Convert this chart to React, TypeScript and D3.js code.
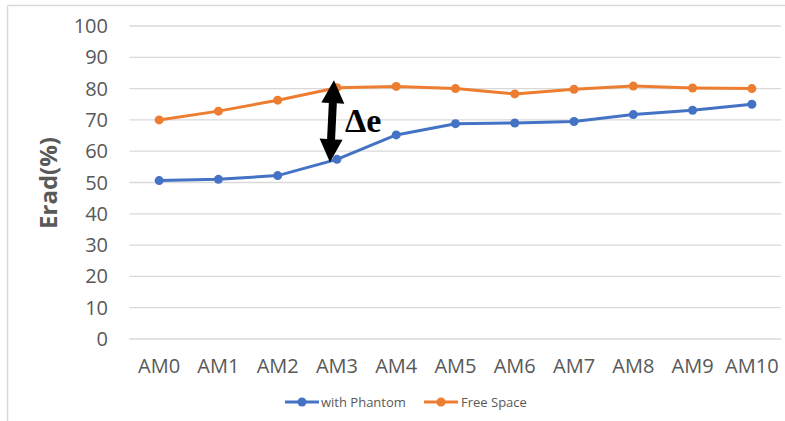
import React from "react";
import * as d3 from "d3";

const categories = ["AM0", "AM1", "AM2", "AM3", "AM4", "AM5", "AM6", "AM7", "AM8", "AM9", "AM10"];
const withPhantom = [50.6, 51.0, 52.2, 57.4, 65.2, 68.8, 69.0, 69.5, 71.7, 73.1, 75.0];
const freeSpace = [70.0, 72.8, 76.3, 80.3, 80.7, 80.0, 78.3, 79.8, 80.8, 80.2, 80.0];
const yTicks = [0, 10, 20, 30, 40, 50, 60, 70, 80, 90, 100];
const seriesNames = ["with Phantom", "Free Space"];
const seriesColors = ["#4472C4", "#ED7D31"];
const arrowTop = 82.7;
const arrowBottom = 56.5;
const arrowCategory = "AM3";
const deltaLabel = "Δe";

const W = 785;
const H = 421;

export default function App() {
  const x = d3.scaleBand<string>().domain(categories).range([129.5, 781.5]).paddingInner(0).paddingOuter(0);
  const cx = (c: string) => (x(c) as number) + x.bandwidth() / 2;
  const y = d3.scaleLinear().domain([0, 100]).range([339, 26]);
  const line = d3
    .line<number>()
    .x((_, i) => cx(categories[i]))
    .y((d) => y(d));
  const series = [withPhantom, freeSpace];

  // arrow geometry
  const ax = cx(arrowCategory);
  const p1 = [ax - 3, y(arrowTop)];
  const p2 = [ax - 7, y(arrowBottom)];
  const dx = p2[0] - p1[0];
  const dy = p2[1] - p1[1];
  const len = Math.hypot(dx, dy);
  const ux = dx / len, uy = dy / len;
  const nx = -uy, ny = ux;
  const headL = 23, headW = 11.5, shaftW = 4;
  const pt = (base: number[], along: number, side: number) =>
    `${base[0] + ux * along + nx * side},${base[1] + uy * along + ny * side}`;
  const arrowPts = [
    pt(p1, 0, 0),
    pt(p1, headL, headW),
    pt(p1, headL, shaftW),
    pt(p2, -headL, shaftW),
    pt(p2, -headL, headW),
    pt(p2, 0, 0),
    pt(p2, -headL, -headW),
    pt(p2, -headL, -shaftW),
    pt(p1, headL, -shaftW),
    pt(p1, headL, -headW),
  ].join(" ");

  const font = "'Open Sans', sans-serif";
  const legendItems = [
    { lx: 285, tx: 321 },
    { lx: 424, tx: 461 },
  ];

  return (
    <svg
      width={W}
      height={H}
      style={{ position: "absolute", left: 0, top: 0, display: "block", background: "#fff" }}
    >
      <rect x={0} y={0} width={W} height={H} fill="#fff" />
      {/* chart frame */}
      <line x1={7.5} y1={5.5} x2={W} y2={5.5} stroke="#d9d9d9" strokeWidth={1.5} />
      <line x1={7.5} y1={5.5} x2={7.5} y2={H} stroke="#d9d9d9" strokeWidth={1.5} />

      {/* gridlines */}
      {yTicks.map((t) => (
        <line key={t} x1={129.5} x2={781} y1={y(t)} y2={y(t)} stroke="#d9d9d9" strokeWidth={1.3} />
      ))}
      {/* y tick labels */}
      {yTicks.map((t) => (
        <text
          key={"l" + t}
          x={108}
          y={y(t)}
          dy="0.35em"
          textAnchor="end"
          fontFamily={font}
          fontSize={20}
          fill="#595959"
        >
          {t}
        </text>
      ))}
      {/* x labels */}
      {categories.map((c) => (
        <text key={c} x={cx(c)} y={373} textAnchor="middle" fontFamily={font} fontSize={20} fill="#595959">
          {c}
        </text>
      ))}
      {/* y axis title */}
      <text
        transform={`translate(57,183) rotate(-90)`}
        textAnchor="middle"
        fontFamily={font}
        fontWeight="bold"
        fontSize={24}
        fill="#595959"
      >
        Erad(%)
      </text>

      {/* series */}
      {series.map((s, si) => (
        <g key={si}>
          <path d={line(s) as string} fill="none" stroke={seriesColors[si]} strokeWidth={3} strokeLinejoin="round" />
          {s.map((v, i) => (
            <circle key={i} cx={cx(categories[i])} cy={y(v)} r={4.5} fill={seriesColors[si]} />
          ))}
        </g>
      ))}

      {/* annotation */}
      <polygon points={arrowPts} fill="#000" />
      <text
        x={ax + 8}
        y={132}
        fontFamily="'Liberation Serif', 'Times New Roman', serif"
        fontWeight="bold"
        fontSize={34}
        fill="#000"
      >
        {deltaLabel}
      </text>

      {/* legend */}
      {legendItems.map((li, i) => (
        <g key={i}>
          <line x1={li.lx} x2={li.lx + 34} y1={402} y2={402} stroke={seriesColors[i]} strokeWidth={3} />
          <circle cx={li.lx + 17} cy={402} r={4.5} fill={seriesColors[i]} />
          <text x={li.tx} y={402} dy="0.35em" fontFamily={font} fontSize={13} fill="#595959">
            {seriesNames[i]}
          </text>
        </g>
      ))}
    </svg>
  );
}
